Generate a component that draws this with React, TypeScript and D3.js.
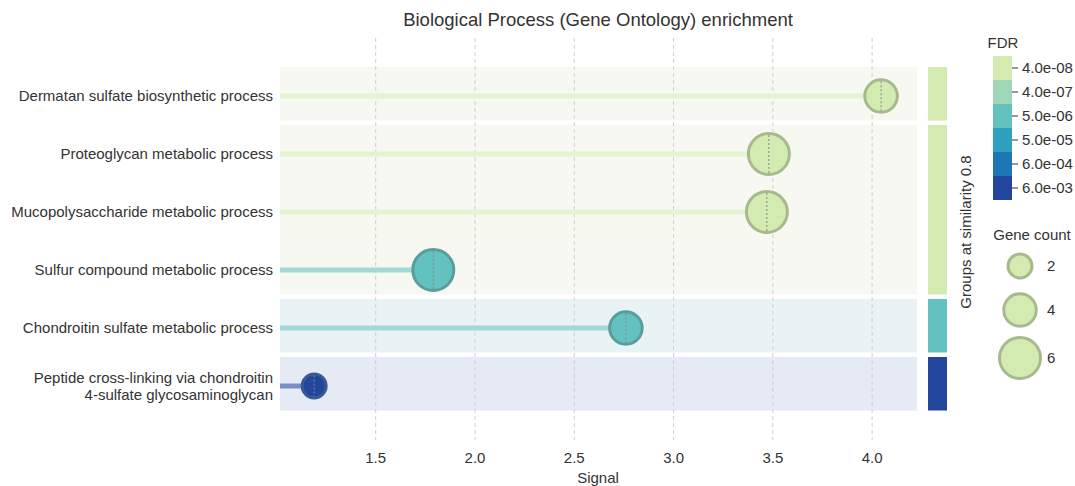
import React from "react";
import * as d3 from "d3";

const terms = [
  "Dermatan sulfate biosynthetic process",
  "Proteoglycan metabolic process",
  "Mucopolysaccharide metabolic process",
  "Sulfur compound metabolic process",
  "Chondroitin sulfate metabolic process",
  "Peptide cross-linking via chondroitin\n4-sulfate glycosaminoglycan",
];
const signal = [4.045, 3.48, 3.47, 1.79, 2.76, 1.19];
const geneCount = [4, 6, 6, 6, 4, 2];
const fdr = [2.5e-8, 3.5e-8, 3.5e-8, 4.5e-6, 4.5e-6, 5.5e-3];
const groups = [0, 1, 1, 1, 2, 3];
const groupFdr = [2.5e-8, 3.5e-8, 4.5e-6, 5.5e-3];

const fdrTicks = ["4.0e-08", "4.0e-07", "5.0e-06", "5.0e-05", "6.0e-04", "6.0e-03"];
const fdrColors = ["#d3ebb0", "#9fd8b9", "#63c1bf", "#2ea0c0", "#1f76b4", "#22469c"];
const fdrStrokes = ["#a8b98e", "#7fac94", "#5a9e9b", "#2a84a0", "#245f92", "#3b5a93"];
const fdrLines = ["#e4f3d0", "#c5e8d5", "#a0d9d6", "#86c6da", "#7fa6d0", "#7b8fc6"];
const fdrBg = ["#f7f8f2", "#f2f6f3", "#eaf3f3", "#e8f1f5", "#e7eef5", "#e6eaf5"];
const fdrThresholds = [1e-7, 1e-6, 2e-5, 2e-4, 2e-3];

const xTicks = [1.5, 2.0, 2.5, 3.0, 3.5, 4.0];
const legendCounts = [2, 4, 6];

const FONT = "'Liberation Sans', Arial, sans-serif";
const FS = 15;

export default function App() {
  const W = 1075, H = 486;
  const x = d3.scaleLinear().domain([1.018, 4.226]).range([280, 917]);
  const y = d3.scaleBand().domain(terms).range([67, 415]).padding(0);
  const r = d3.scaleLinear().domain([2, 6]).range([12, 20.5]);
  const colorIdx = d3.scaleThreshold<number, number>().domain(fdrThresholds).range([0, 1, 2, 3, 4, 5]);
  const bw = y.bandwidth();

  const groupIds = Array.from(new Set(groups));
  const groupRects = groupIds.map((g) => {
    const idx = terms.map((_, i) => i).filter((i) => groups[i] === g);
    const top = y(terms[idx[0]])!;
    const bottom = y(terms[idx[idx.length - 1]])! + bw - 4.5;
    return { g, top, bottom, ci: colorIdx(groupFdr[g]) };
  });

  const legendTop = 56, legendStep = 24;

  return (
    <svg width={W} height={H} style={{ display: "block", position: "absolute", left: 0, top: 0 }} fontFamily={FONT}>
      <rect width={W} height={H} fill="#fff" />
      <text x={598} y={26} textAnchor="middle" fontSize={18.5} fill="#333">
        Biological Process (Gene Ontology) enrichment
      </text>
      {groupRects.map((gr) => (
        <g key={gr.g}>
          <rect x={280} y={gr.top} width={637} height={gr.bottom - gr.top} fill={fdrBg[gr.ci]} />
          <rect x={928} y={gr.top} width={19} height={gr.bottom - gr.top} fill={fdrColors[gr.ci]} />
        </g>
      ))}
      {xTicks.map((t) => (
        <g key={t}>
          <line x1={x(t)} x2={x(t)} y1={38} y2={440} stroke="#cfcfcf" strokeDasharray="4,3" strokeWidth={1} />
          <text x={x(t)} y={463} textAnchor="middle" fontSize={FS} fill="#333">
            {t.toFixed(1)}
          </text>
        </g>
      ))}
      <text x={598} y={483} textAnchor="middle" fontSize={FS} fill="#333">Signal</text>
      {terms.map((t, i) => {
        const cy = y(t)! + bw / 2;
        const ci = colorIdx(fdr[i]);
        const cx = x(signal[i]);
        const rr = r(geneCount[i]);
        const lines = t.split("\n");
        return (
          <g key={t}>
            <line x1={280} x2={cx} y1={cy} y2={cy} stroke={fdrLines[ci]} strokeWidth={5} />
            <circle cx={cx} cy={cy} r={rr} fill={fdrColors[ci]} stroke={fdrStrokes[ci]} strokeWidth={3} />
            <line x1={cx} x2={cx} y1={cy - rr + 1.5} y2={cy + rr - 1.5} stroke="#888" strokeDasharray="2,2" strokeWidth={1} />
            {lines.map((ln, j) => (
              <text key={j} x={273} y={cy + 5 + (j - (lines.length - 1) / 2) * 17} textAnchor="end" fontSize={FS} fill="#333">
                {ln}
              </text>
            ))}
          </g>
        );
      })}
      <text transform={`translate(971,232) rotate(-90)`} textAnchor="middle" fontSize={FS} fill="#333">
        Groups at similarity 0.8
      </text>
      <text x={1003} y={48} textAnchor="middle" fontSize={FS} fill="#333">FDR</text>
      {fdrTicks.map((lab, i) => (
        <g key={lab}>
          <rect x={993} y={legendTop + i * legendStep} width={19} height={legendStep} fill={fdrColors[i]} />
          <line x1={1012} x2={1018} y1={legendTop + i * legendStep + legendStep / 2} y2={legendTop + i * legendStep + legendStep / 2} stroke="#333" strokeWidth={1} />
          <text x={1022} y={legendTop + i * legendStep + legendStep / 2 + 5} fontSize={FS} fill="#333">{lab}</text>
        </g>
      ))}
      <text x={1032} y={240} textAnchor="middle" fontSize={FS} fill="#333">Gene count</text>
      {legendCounts.map((c, i) => {
        const cy = [266, 310, 358][i];
        return (
          <g key={c}>
            <circle cx={1020} cy={cy} r={r(c)} fill={fdrColors[0]} stroke={fdrStrokes[0]} strokeWidth={3} />
            <text x={1047} y={cy + 5} fontSize={FS} fill="#333">{c}</text>
          </g>
        );
      })}
    </svg>
  );
}
